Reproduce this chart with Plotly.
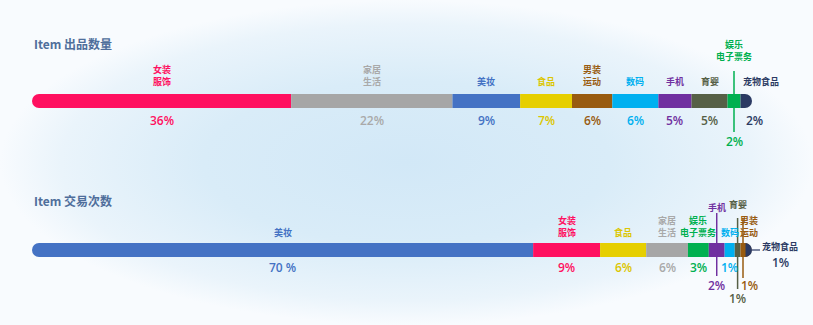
import plotly.graph_objects as go

# ---------------- data ----------------
top_title = "Item 出品数量"
top_categories = ["女装服饰", "家居生活", "美妆", "食品", "男装运动", "数码", "手机", "育婴", "娱乐电子票务", "宠物食品"]
top_shares = [36.0, 22.4, 9.4, 7.2, 5.6, 6.4, 4.6, 5.0, 1.8, 1.6]
top_pct_labels = ["36%", "22%", "9%", "7%", "6%", "6%", "5%", "5%", "2%", "2%"]

bottom_title = "Item 交易次数"
bottom_categories = ["美妆", "女装服饰", "食品", "家居生活", "娱乐电子票务", "手机", "数码", "育婴", "男装运动", "宠物食品"]
bottom_shares = [69.6, 9.3, 6.4, 5.8, 2.9, 2.2, 1.4, 0.8, 0.7, 0.9]
bottom_pct_labels = ["70 %", "9%", "6%", "6%", "3%", "2%", "1%", "1%", "1%", "1%"]

# ---------------- styles ----------------
DISPLAY = {"女装服饰": "女装<br>服饰", "家居生活": "家居<br>生活", "男装运动": "男装<br>运动",
           "娱乐电子票务": "娱乐<br>电子票务"}
COLORS = {"女装服饰": "#ff1060", "家居生活": "#a6a6a6", "美妆": "#4472c4", "食品": "#e6cf00",
          "男装运动": "#985b10", "数码": "#00b0f0", "手机": "#7030a0", "育婴": "#566046",
          "娱乐电子票务": "#00b050", "宠物食品": "#2b3a63"}
TEXT_COLORS = dict(COLORS, **{"家居生活": "#a9a9a9", "食品": "#dcc600"})

W, H = 813, 325
X0_PX, PX_PER_UNIT = 32, 7.2
BAR_H = 14
CJK = "Noto Sans CJK SC"
NUM = "Open Sans, Noto Sans, sans-serif"
TITLE_COLOR = "#4f6e9b"

charts = [
    dict(title=top_title, cats=top_categories, shares=top_shares, pcts=top_pct_labels,
         ybar=101, ytitle=43, xaxis="x2", label_off=11, pct_off=19,
         special={"娱乐电子票务": dict(kind="callout", label_y=65, line=(71, 132), pct_y=141),
                  "宠物食品": dict(kind="shift", label_dx=15, pct_dx=8)}),
    dict(title=bottom_title, cats=bottom_categories, shares=bottom_shares, pcts=bottom_pct_labels,
         ybar=250, ytitle=200, xaxis="x3", label_off=9, pct_off=17,
         special={"手机": dict(kind="callout", label_y=216, line=(213, 276), pct_y=285),
                  "育婴": dict(kind="callout", label_y=213, line=(218, 289), pct_y=298),
                  "男装运动": dict(kind="callout", label_y=241, label_dx=6, line=(218, 278),
                                   pct_y=285, pct_dx=6),
                  "宠物食品": dict(kind="side", label_x_px=780, label_y=246, pct_y=262)}),
]

xmin = -X0_PX / PX_PER_UNIT
xmax = (W - X0_PX) / PX_PER_UNIT

fig = go.Figure()

# background gradient (main subplot, drawn underneath)
fig.add_trace(go.Scatter(
    x=[xmin, xmax, xmax, xmin, xmin], y=[0, 0, H, H, 0], mode="lines", fill="toself",
    line=dict(width=0), hoverinfo="skip", showlegend=False,
    fillgradient=dict(type="radial", colorscale=[[0, "#d2e8f7"], [0.5, "#d9ecf8"],
                                                 [0.85, "#eaf4fb"], [1, "#f8fbfe"]]),
    xaxis="x", yaxis="y",
))

annotations = []
shapes = []
axes = {}

for ch in charts:
    yb = ch["ybar"]
    xa = ch["xaxis"]
    offset = ch["shares"][0]          # first segment drawn negative so both ends are rounded
    axes[xa] = [xmin - offset, xmax - offset]
    start = 0.0
    total = sum(ch["shares"])
    for i, (cat, share, pct) in enumerate(zip(ch["cats"], ch["shares"], ch["pcts"])):
        end = start + share
        color = COLORS[cat]
        tcolor = TEXT_COLORS[cat]
        fig.add_trace(go.Bar(
            x=[-share if i == 0 else share], y=[yb], orientation="h", width=[BAR_H],
            marker=dict(color=color, line=dict(width=0)),
            hoverinfo="skip", showlegend=False, xaxis=xa, yaxis="y2",
        ))
        mid = (start + end) / 2 - offset
        sp = ch["special"].get(cat, {})
        kind = sp.get("kind", "normal")
        label = DISPLAY.get(cat, cat)
        if kind == "side":
            lx = (sp["label_x_px"] - X0_PX) / PX_PER_UNIT - offset
            shapes.append(dict(type="line", xref=xa, yref="y2", x0=total - offset,
                               x1=total - offset + 8 / PX_PER_UNIT,
                               y0=yb, y1=yb, line=dict(color=color, width=1.2)))
            annotations.append(dict(x=lx, y=sp["label_y"], xref=xa, yref="y2",
                                    text=f"<b>{label}</b>", showarrow=False,
                                    xanchor="center", yanchor="middle",
                                    font=dict(family=CJK, size=9, color=tcolor)))
            annotations.append(dict(x=lx, y=sp["pct_y"], xref=xa, yref="y2", text=pct,
                                    showarrow=False, xanchor="center", yanchor="middle",
                                    font=dict(family=NUM, size=12, color=tcolor, weight=600)))
        else:
            label_y = sp.get("label_y", yb - ch["label_off"])
            pct_y = sp.get("pct_y", yb + ch["pct_off"])
            annotations.append(dict(x=mid, y=label_y, xref=xa, yref="y2",
                                    xshift=sp.get("label_dx", 0),
                                    text=f"<b>{label}</b>", showarrow=False,
                                    xanchor="center", yanchor="bottom",
                                    font=dict(family=CJK, size=9, color=tcolor)))
            annotations.append(dict(x=mid, y=pct_y, xref=xa, yref="y2",
                                    xshift=sp.get("pct_dx", 0), text=pct,
                                    showarrow=False, xanchor="center", yanchor="middle",
                                    font=dict(family=NUM, size=12, color=tcolor, weight=600)))
            if kind == "callout":
                shapes.append(dict(type="line", xref=xa, yref="y2", x0=mid, x1=mid,
                                   y0=sp["line"][0], y1=sp["line"][1],
                                   line=dict(color=color, width=1.5), layer="above"))
        start = end

    annotations.append(dict(x=-offset, y=ch["ytitle"], xref=xa, yref="y2",
                            text=f"<b>{ch['title']}</b>", showarrow=False,
                            xanchor="left", yanchor="middle",
                            font=dict(family=CJK, size=12, color=TITLE_COLOR)))

axis_y = dict(range=[H, 0], visible=False, fixedrange=True)
fig.update_layout(
    width=W, height=H, margin=dict(l=0, r=0, t=0, b=0),
    paper_bgcolor="#f8fbfe", plot_bgcolor="rgba(0,0,0,0)",
    barmode="relative", barcornerradius=BAR_H / 2, showlegend=False,
    xaxis=dict(range=[xmin, xmax], visible=False, fixedrange=True), yaxis=axis_y,
    xaxis2=dict(range=axes["x2"], visible=False, fixedrange=True, overlaying="x", anchor="y2"),
    xaxis3=dict(range=axes["x3"], visible=False, fixedrange=True, overlaying="x", anchor="y2"),
    yaxis2=dict(axis_y, overlaying="y", anchor="x2"),
    annotations=annotations, shapes=shapes,
)

fig.write_html("out.html", config={"displayModeBar": False})
